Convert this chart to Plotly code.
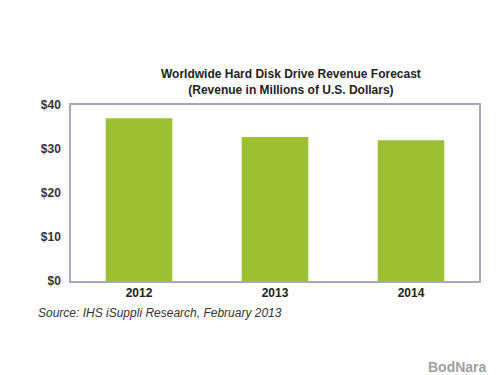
import plotly.graph_objects as go

years = ["2012", "2013", "2014"]
revenue = [37.0, 32.7, 32.0]
y_ticks = [0, 10, 20, 30, 40]
y_tick_labels = ["<b>$0</b>", "<b>$10</b>", "<b>$20</b>", "<b>$30</b>", "<b>$40</b>"]
x_tick_labels = ["<b>" + y + "</b>" for y in years]

fig = go.Figure(go.Bar(x=years, y=revenue, marker_color="#9dc030", width=0.49,
                       marker_line_width=0))

fig.update_layout(
    width=500, height=375,
    margin=dict(l=63, r=29, t=97, b=102),
    paper_bgcolor="white", plot_bgcolor="white",
    showlegend=False,
    font=dict(family="Arial, Liberation Sans, sans-serif", color="#333333"),
)
fig.update_xaxes(showline=True, linecolor="#a6a8bd", linewidth=1.5, mirror=True,
                 tickvals=years, ticktext=x_tick_labels,
                 ticks="", tickfont=dict(size=12, color="#222222"), showgrid=False)
fig.update_yaxes(range=[0, 40], tickvals=y_ticks, ticktext=y_tick_labels,
                 showline=True, linecolor="#a6a8bd", linewidth=1.5, mirror=True,
                 ticks="", showgrid=False, zeroline=False,
                 tickfont=dict(size=12, color="#333333"), ticklabelstandoff=6)

fig.add_annotation(text="<b>Worldwide Hard Disk Drive Revenue Forecast<br>(Revenue in Millions of U.S. Dollars)</b>",
                   xref="x domain", yref="y domain", x=0.54, y=1.035,
                   xanchor="center", yanchor="bottom", showarrow=False,
                   font=dict(size=12, color="#222222"))
fig.add_annotation(text="<i>Source: IHS iSuppli Research, February 2013</i>",
                   xref="paper", yref="paper", x=-0.085, y=-0.13, xanchor="left", yanchor="top",
                   showarrow=False, font=dict(size=12, color="#333333"))
fig.add_annotation(text="<b>BodNara</b>",
                   xref="paper", yref="paper", x=0.87, y=-0.43, xanchor="left", yanchor="top",
                   showarrow=False, font=dict(size=14, color="#a0a0a0"))

fig.write_html("out.html")
